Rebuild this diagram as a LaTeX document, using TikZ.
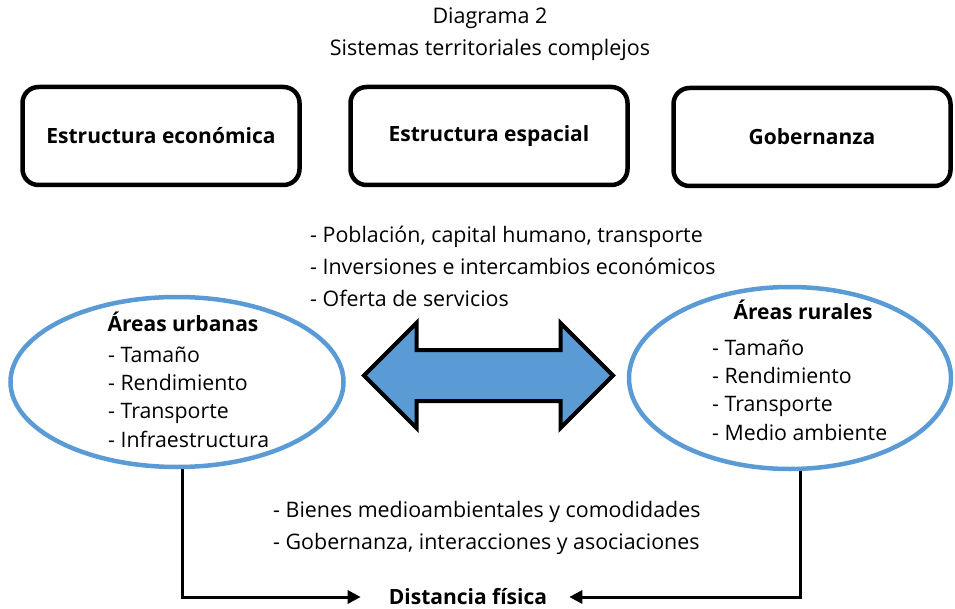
\documentclass[tikz,border=0pt]{standalone}
\usepackage{fontspec}
\setmainfont{Open Sans}
\usetikzlibrary{positioning,shapes.geometric,shapes.arrows,arrows.meta}
\definecolor{ovalblue}{RGB}{91,155,213}
\tikzset{
  topbox/.style   = {shape=rectangle, rounded corners=16pt, draw,
                     line width=4.5pt, minimum width=277pt,
                     minimum height=98pt, font=\fontsize{21}{25}\selectfont\bfseries},
  area/.style     = {shape=ellipse, draw=ovalblue, line width=4.5pt, inner sep=0pt},
  areahead/.style = {font=\fontsize{21}{25}\selectfont\bfseries},
  itemlist/.style = {align=left, inner sep=0pt, font=\fontsize{21.3}{28.3}\selectfont},
  flowlist/.style = {align=left, inner sep=0pt, font=\fontsize{21.4}{32}\selectfont},
  title/.style    = {font=\fontsize{21.5}{25}\selectfont},
  link/.style     = {shape=double arrow, draw, fill=ovalblue, line width=4pt,
                     double arrow tip angle=90, double arrow head extend=27pt,
                     minimum width=102pt, minimum height=249pt,
                     inner xsep=0pt, inner ysep=23.5pt},
  flowarrow/.style = {draw, line width=3pt, -{Triangle[length=13pt,width=13pt]}}
}
\begin{document}
\begin{tikzpicture}[x=1pt, y=-1pt]
  \useasboundingbox (0,0) rectangle (955,609);
  \node[title] (ttl1) at (490,18) {Diagrama 2};
  \node[title] (ttl2) at (490,50) {Sistemas territoriales complejos};

  \node[topbox] (eco) at (161,136) {Estructura económica};
  \node[topbox] (esp) at (489,136) {Estructura espacial};
  \node[topbox] (gob) at (812,137) {Gobernanza};

  \node[flowlist, anchor=west] (flows) at (310,266)
    {- Población, capital humano, transporte\\
     - Inversiones e intercambios económicos\\
     - Oferta de servicios};

  \node[area, minimum width=333pt, minimum height=170pt] (urb) at (177,382) {};
  \node[areahead] (urbhead) at (183,322) {Áreas urbanas};
  \node[itemlist, anchor=west] (urblist) at (108,397)
    {- Tamaño\\ - Rendimiento\\ - Transporte\\ - Infraestructura};

  \node[area, minimum width=322pt, minimum height=182pt] (rur) at (790,378) {};
  \node[areahead] (rurhead) at (803,310) {Áreas rurales};
  \node[itemlist, anchor=west] (rurlist) at (712,390)
    {- Tamaño\\ - Rendimiento\\ - Transporte\\ - Medio ambiente};

  \node[link] (lnk) at (488.5,375.5) {};

  \node[flowlist, anchor=west] (goods) at (273,528)
    {- Bienes medioambientales y comodidades\\
     - Gobernanza, interacciones y asociaciones};

  \node[areahead, inner sep=0pt] (dist) at (468,597) {Distancia física};

  \draw[flowarrow, shorten >=28pt] ([xshift=5pt]urb.south) |- (dist.west);
  \draw[flowarrow, shorten >=22pt] ([xshift=10pt]rur.south) |- (dist.east);
\end{tikzpicture}
\end{document}
